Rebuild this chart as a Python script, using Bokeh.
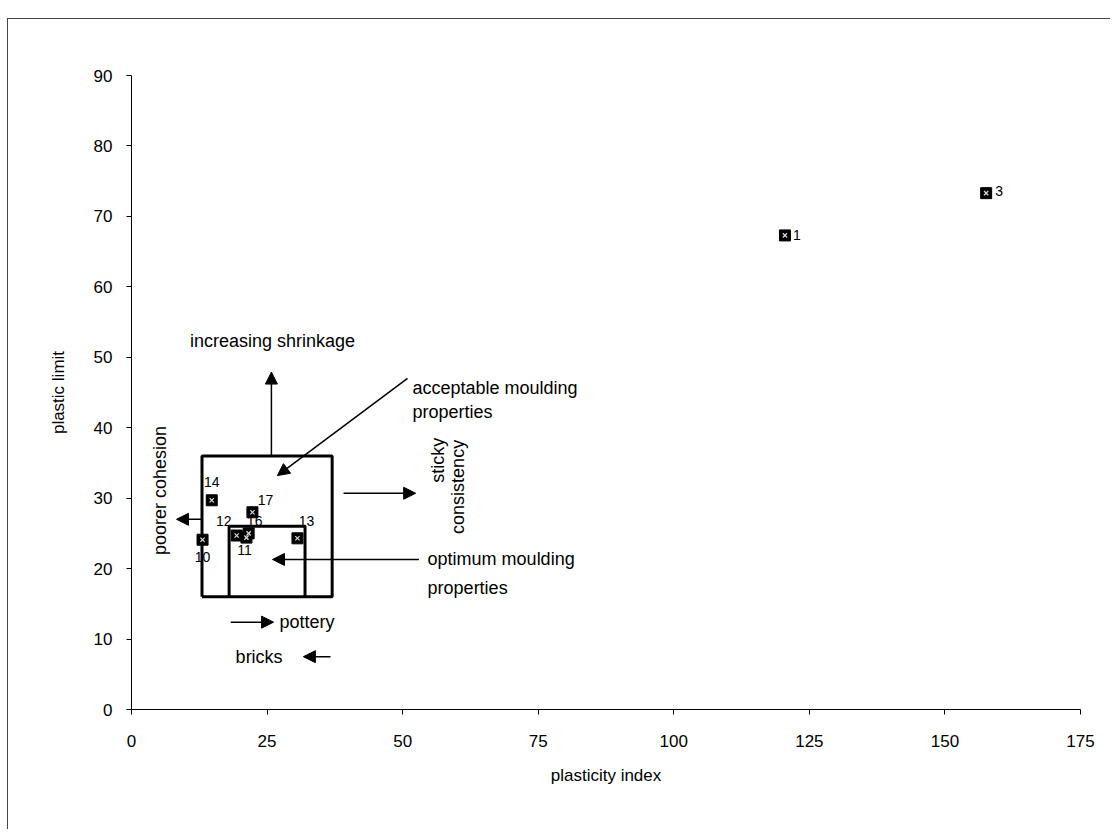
import math
from bokeh.plotting import figure
from bokeh.models import Range1d, FixedTicker, Arrow, NormalHead, ColumnDataSource
from bokeh.core.properties import value
from bokeh.embed import file_html
from bokeh.resources import INLINE

# ---- data ----
sample_ids = ["1", "3", "10", "12", "11", "14", "13", "16", "17"]
plasticity_index = [120.5, 157.6, 13.1, 19.4, 21.2, 14.8, 30.6, 21.6, 22.3]
plastic_limit = [67.3, 73.3, 24.1, 24.7, 24.4, 29.7, 24.3, 25.0, 28.0]

x_ticks = [0, 25, 50, 75, 100, 125, 150, 175]
y_ticks = [0, 10, 20, 30, 40, 50, 60, 70, 80, 90]

# label offsets (screen px, +dy = down) for each data label
lab_dx = [12, 13, 0, -13, -2, 0, 9, 6, 13]
lab_dy = [0, -2, 17, -15, 12, -18, -17, -12, -12]

FONT = "Liberation Sans"

p = figure(
    frame_width=949, frame_height=634,
    min_border_left=123, min_border_right=30, min_border_top=56, min_border_bottom=120,
    x_range=Range1d(0, 175), y_range=Range1d(0, 90),
    output_backend="svg", toolbar_location=None,
)
p.styles = {"border-left": "1px solid #444", "border-top": "1px solid #444",
            "margin-top": "18px", "margin-left": "7px"}
p.outline_line_color = None
p.xgrid.grid_line_color = None
p.ygrid.grid_line_color = None
p.background_fill_color = "white"
p.border_fill_color = "white"

for ax in (p.xaxis[0], p.yaxis[0]):
    ax.major_tick_in = 0
    ax.major_tick_out = 5
    ax.minor_tick_line_color = None
    ax.axis_line_color = "black"
    ax.major_tick_line_color = "black"
    ax.major_label_text_font = FONT
    ax.major_label_text_font_size = "17px"
    ax.major_label_text_color = "black"
    ax.axis_label_text_font = FONT
    ax.axis_label_text_font_size = "17px"
    ax.axis_label_text_font_style = "normal"
    ax.axis_label_text_color = "black"

p.xaxis.ticker = FixedTicker(ticks=x_ticks)
p.yaxis.ticker = FixedTicker(ticks=y_ticks)
p.xaxis.axis_label = "plasticity index"
p.yaxis.axis_label = "plastic limit"
p.xaxis.major_label_standoff = 20
p.xaxis.axis_label_standoff = 16
p.yaxis.major_label_standoff = 14
p.yaxis.axis_label_standoff = 23

# ---- zone boxes ----
p.line([13, 37, 37, 13, 13], [16, 16, 36, 36, 16], line_color="black", line_width=3)
p.line([18, 18, 32, 32], [16, 26, 26, 16], line_color="black", line_width=3)

# ---- data points ----
src = ColumnDataSource(dict(x=plasticity_index, y=plastic_limit, t=sample_ids, dx=lab_dx, dy=lab_dy))
p.scatter("x", "y", source=src, marker="square", size=11, fill_color="black", line_color="black")
p.scatter("x", "y", source=src, marker="x", size=6, line_color="#dddddd", line_width=1.2)
p.text("x", "y", text="t", source=src, x_offset="dx", y_offset="dy",
       text_font=value(FONT), text_font_size="14px", text_color="black",
       text_align="center", text_baseline="middle")

# ---- arrows ----
def arrow(x0, y0, x1, y1):
    p.add_layout(Arrow(end=NormalHead(size=12, fill_color="black", line_color="black"),
                       x_start=x0, y_start=y0, x_end=x1, y_end=y1,
                       line_color="black", line_width=1.5))

arrow(25.8, 36, 25.8, 47.9)    # increasing shrinkage
arrow(50.9, 47.0, 26.9, 33.2)  # acceptable moulding
arrow(39.1, 30.7, 52.4, 30.7)  # sticky consistency
arrow(53.0, 21.3, 26.0, 21.3)  # optimum moulding
arrow(13.0, 27.0, 8.3, 27.0)   # poorer cohesion
arrow(18.3, 12.4, 26.2, 12.4)  # pottery
arrow(36.7, 7.5, 31.7, 7.5)    # bricks

# ---- annotation texts ----
def txt(x, y, s, align="left", angle=0.0):
    p.text(x=[x], y=[y], text=[s], angle=angle, text_font=value(FONT), text_font_size="18px",
           text_color="black", text_align=align, text_baseline="middle")

txt(26.0, 52.3, "increasing shrinkage", align="center")
txt(51.8, 45.6, "acceptable moulding")
txt(51.8, 42.3, "properties")
txt(54.6, 21.3, "optimum moulding")
txt(54.6, 17.3, "properties")
txt(27.3, 12.4, "pottery")
txt(19.2, 7.5, "bricks")
txt(5.2, 31.1, "poorer cohesion", align="center", angle=math.pi / 2)
txt(56.6, 35.4, "sticky", align="center", angle=math.pi / 2)
txt(60.2, 31.6, "consistency", align="center", angle=math.pi / 2)

open("out.html", "w").write(file_html(p, INLINE))
